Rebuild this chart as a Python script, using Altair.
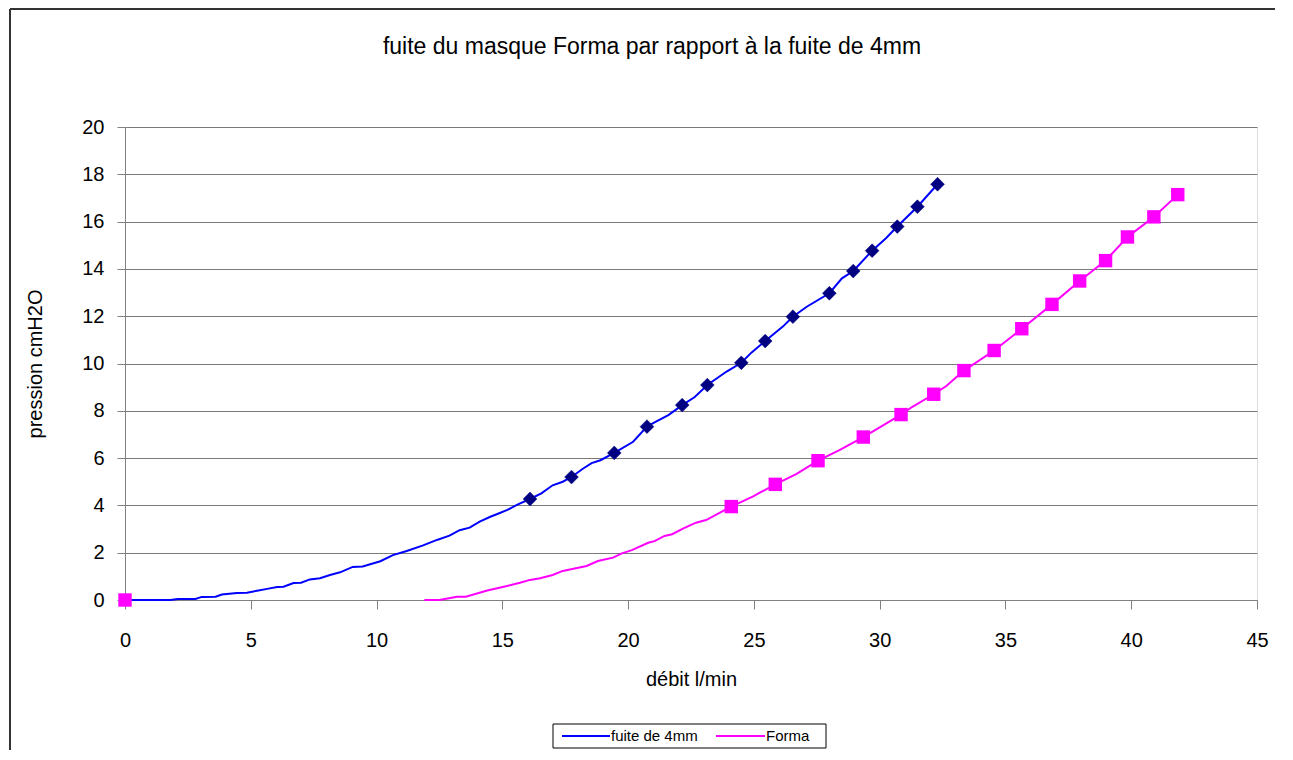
import altair as alt
import pandas as pd

# ---- data ----
blue_line_x = [0, 1.8, 2.1, 2.8, 3.05, 3.6, 3.85, 4.45, 4.85, 5.25, 5.65, 6.05, 6.3, 6.7, 7.0, 7.35,
               7.75, 8.15, 8.55, 9.05, 9.45, 10.15, 10.65, 11.2, 11.85, 12.4, 12.9, 13.3, 13.7, 14.1,
               14.5, 14.9, 15.2, 15.6, 16.1, 16.55, 17.0, 17.4, 17.75, 18.2, 18.55, 18.9, 19.45, 20.2,
               20.75, 21.05, 21.6, 22.15, 22.65, 23.15, 23.9, 24.5, 24.9, 25.45, 26.15, 26.55, 27.1,
               28.0, 28.5, 28.95, 29.7, 30.25, 30.7, 31.5, 32.3]
blue_line_y = [0, 0, 0.04, 0.04, 0.13, 0.14, 0.23, 0.30, 0.31, 0.39, 0.47, 0.55, 0.56, 0.72, 0.73, 0.87,
               0.92, 1.06, 1.17, 1.40, 1.42, 1.64, 1.90, 2.07, 2.31, 2.54, 2.72, 2.95, 3.06, 3.31,
               3.51, 3.68, 3.81, 4.03, 4.27, 4.51, 4.85, 5.00, 5.20, 5.55, 5.79, 5.91, 6.22, 6.69,
               7.33, 7.51, 7.82, 8.24, 8.58, 9.09, 9.65, 10.03, 10.46, 10.95, 11.56, 11.98, 12.40,
               12.97, 13.60, 13.91, 14.77, 15.30, 15.79, 16.63, 17.58]

blue_mark_x = [16.1, 17.75, 19.45, 20.75, 22.15, 23.15, 24.5, 25.45, 26.55, 28.0, 28.95, 29.7, 30.7, 31.5, 32.3]
blue_mark_y = [4.27, 5.20, 6.22, 7.33, 8.24, 9.09, 10.03, 10.95, 11.98, 12.97, 13.91, 14.77, 15.79, 16.63, 17.58]

pink_line_x = [11.9, 12.5, 13.2, 13.55, 14.4, 15.1, 15.7, 16.1, 16.5, 17.0, 17.4, 18.35, 18.8, 19.4,
               19.75, 20.15, 20.8, 21.05, 21.45, 21.75, 22.2, 22.7, 23.1, 24.1, 24.95, 25.85, 26.7,
               27.55, 28.4, 29.35, 30.85, 31.3, 32.15, 32.65, 33.35, 34.55, 35.65, 36.85, 37.95,
               38.98, 39.85, 40.9, 41.85]
pink_line_y = [0, 0, 0.14, 0.14, 0.40, 0.57, 0.73, 0.85, 0.92, 1.06, 1.23, 1.44, 1.65, 1.79,
               1.97, 2.11, 2.42, 2.49, 2.71, 2.78, 3.03, 3.27, 3.38, 3.95, 4.37, 4.89, 5.33,
               5.89, 6.34, 6.89, 7.84, 8.17, 8.70, 9.05, 9.70, 10.55, 11.47, 12.50, 13.49,
               14.35, 15.35, 16.20, 17.14]

pink_mark_x = [0, 24.1, 25.85, 27.55, 29.35, 30.85, 32.15, 33.35, 34.55, 35.65, 36.85, 37.95, 38.98, 39.85, 40.9, 41.85]
pink_mark_y = [0, 3.95, 4.89, 5.89, 6.89, 7.84, 8.70, 9.70, 10.55, 11.47, 12.50, 13.49, 14.35, 15.35, 16.20, 17.14]

series_names = ["fuite de 4mm", "Forma"]
x_ticks = [0, 5, 10, 15, 20, 25, 30, 35, 40, 45]
y_ticks = [0, 2, 4, 6, 8, 10, 12, 14, 16, 18, 20]
title_text = "fuite du masque Forma par rapport à la fuite de 4mm"

BLUE = "#0000FF"
NAVY = "#000080"
PINK = "#FF00FF"
FONT = "Liberation Sans"

lines_df = pd.concat([
    pd.DataFrame({"x": blue_line_x, "y": blue_line_y, "serie": series_names[0], "o": range(len(blue_line_x))}),
    pd.DataFrame({"x": pink_line_x, "y": pink_line_y, "serie": series_names[1], "o": range(len(pink_line_x))}),
])
blue_m = pd.DataFrame({"x": blue_mark_x, "y": blue_mark_y})
pink_m = pd.DataFrame({"x": pink_mark_x, "y": pink_mark_y})

xs = alt.Scale(domain=[0, 45], nice=False, zero=False)
ys = alt.Scale(domain=[0, 20], nice=False)

x_axis = alt.Axis(values=x_ticks, title="débit l/min", grid=False, tickSize=9, labelPadding=21,
                  titlePadding=19, labelFontSize=20, titleFontSize=20, titleFontWeight="normal",
                  labelFlush=False, labelFont=FONT, titleFont=FONT, domainColor="#808080",
                  tickColor="#808080", labelColor="black", titleColor="black")
y_axis = alt.Axis(values=y_ticks, title="pression cmH2O", grid=True, gridColor="#7a7a7a", tickSize=8,
                  labelPadding=13, titlePadding=36, labelFontSize=20, titleFontSize=20,
                  titleFontWeight="normal", labelFlush=False, labelFont=FONT, titleFont=FONT,
                  domainColor="#808080", tickColor="#808080", labelColor="black", titleColor="black")

one = alt.Data(values=[{"a": 1}])

# chart outer frame (left and top edges visible in the reference)
frame_top = alt.Chart(one).mark_rule(color="#333333", strokeWidth=2).encode(
    x=alt.value(-115), x2=alt.value(1150), y=alt.value(-118))
frame_left = alt.Chart(one).mark_rule(color="#333333", strokeWidth=2).encode(
    x=alt.value(-115), y=alt.value(-118), y2=alt.value(700))

title = alt.Chart(one).mark_text(fontSize=23, font=FONT, color="black", align="center",
                                 baseline="middle").encode(
    x=alt.value(527), y=alt.value(-80), text=alt.value(title_text))

lines = alt.Chart(lines_df).mark_line(strokeWidth=2, interpolate="linear").encode(
    x=alt.X("x:Q", scale=xs, axis=x_axis),
    y=alt.Y("y:Q", scale=ys, axis=y_axis),
    color=alt.Color("serie:N", scale=alt.Scale(domain=series_names, range=[BLUE, PINK]), legend=None),
    detail="serie:N",
    order="o:Q",
)

bm = alt.Chart(blue_m).mark_point(shape="diamond", filled=True, fill=NAVY, size=190, opacity=1,
                                  stroke=NAVY, strokeWidth=0.5).encode(x="x:Q", y="y:Q")
pm = alt.Chart(pink_m).mark_point(shape="square", filled=True, fill=PINK, size=180, opacity=1,
                                  strokeWidth=0).encode(x="x:Q", y="y:Q")

# legend box, drawn as in the reference (line samples + labels)
leg_box = alt.Chart(one).mark_rect(fill="white", stroke="black", strokeWidth=1).encode(
    x=alt.value(428), x2=alt.value(701), y=alt.value(597), y2=alt.value(621))
leg_blue = alt.Chart(one).mark_rule(color=BLUE, strokeWidth=2).encode(
    x=alt.value(437), x2=alt.value(485), y=alt.value(609))
leg_pink = alt.Chart(one).mark_rule(color=PINK, strokeWidth=2).encode(
    x=alt.value(591), x2=alt.value(640), y=alt.value(609))
leg_t1 = alt.Chart(one).mark_text(fontSize=15, font=FONT, color="black", align="left",
                                  baseline="middle").encode(
    x=alt.value(486), y=alt.value(609), text=alt.value(series_names[0]))
leg_t2 = alt.Chart(one).mark_text(fontSize=15, font=FONT, color="black", align="left",
                                  baseline="middle").encode(
    x=alt.value(641), y=alt.value(609), text=alt.value(series_names[1]))

chart = alt.layer(frame_top, frame_left, title, lines, bm, pm,
                  leg_box, leg_blue, leg_pink, leg_t1, leg_t2).properties(
    width=1132, height=473,
    autosize=alt.AutoSizeParams(type="none"),
    padding={"left": 117, "top": 119, "right": 28, "bottom": 150},
).configure_view(stroke=None).configure(background="white")

chart.save("out.html", embed_options={"renderer": "svg", "actions": False})
